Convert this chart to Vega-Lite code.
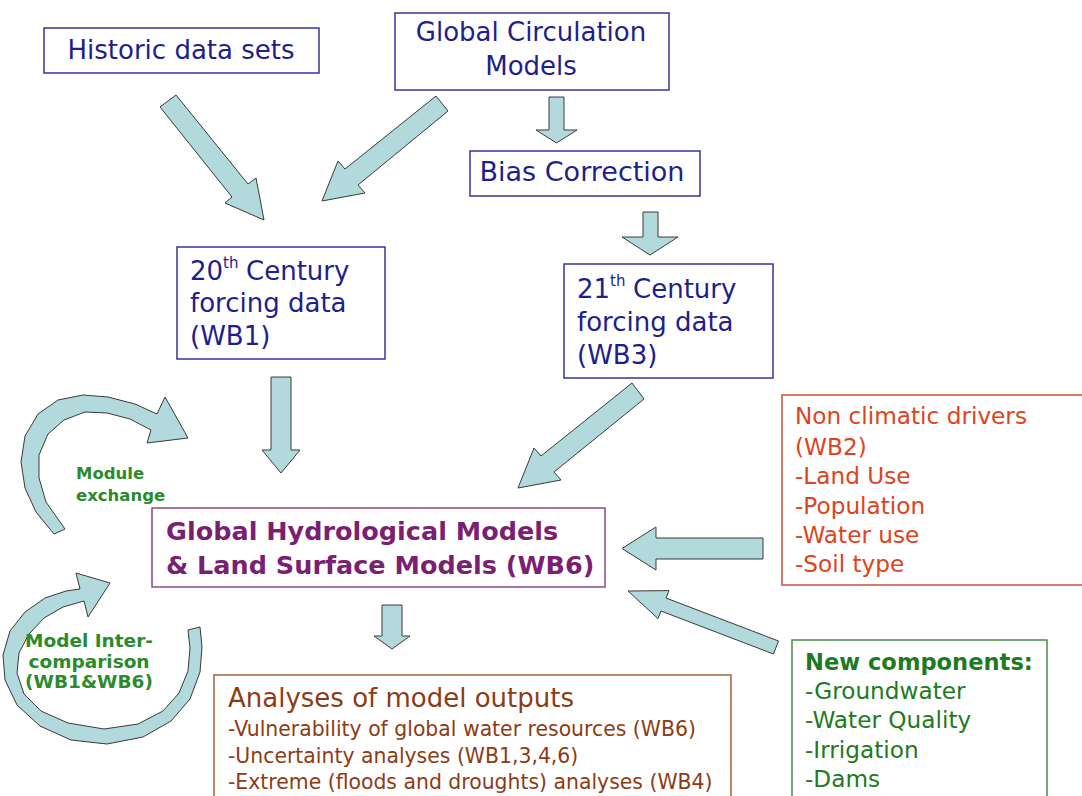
{
"$schema":"https://vega.github.io/schema/vega-lite/v6.json",
"width":1082,"height":796,"padding":0,
"autosize":{"type":"fit","contains":"padding"},
"background":"white",
"config":{"view":{"stroke":null}},
"datasets":{
"boxes":[
{"id":"historic","x1":44,"y1":28,"x2":319,"y2":73,"g":"input"},
{"id":"gcm","x1":395,"y1":13,"x2":669,"y2":90,"g":"input"},
{"id":"bias","x1":470,"y1":151,"x2":700,"y2":196,"g":"input"},
{"id":"c20","x1":177,"y1":247,"x2":385,"y2":359,"g":"input"},
{"id":"c21","x1":564,"y1":264,"x2":773,"y2":378,"g":"input"},
{"id":"ghm","x1":152,"y1":508,"x2":605,"y2":587,"g":"model"},
{"id":"nonclim","x1":782,"y1":395,"x2":1095,"y2":585,"g":"driver"},
{"id":"analyses","x1":214,"y1":675,"x2":731,"y2":810,"g":"output"},
{"id":"newcomp","x1":792,"y1":640,"x2":1047,"y2":810,"g":"component"}
],
"arrows":[
{"a":"A1","i":0,"x":160,"y":107},{"a":"A1","i":1,"x":232,"y":197},{"a":"A1","i":2,"x":225,"y":203},{"a":"A1","i":3,"x":264,"y":220},{"a":"A1","i":4,"x":256,"y":178},{"a":"A1","i":5,"x":248,"y":184},{"a":"A1","i":6,"x":176,"y":95},{"a":"A1","i":7,"x":160,"y":107},
{"a":"A2","i":0,"x":436,"y":96},{"a":"A2","i":1,"x":345,"y":169},{"a":"A2","i":2,"x":338,"y":161},{"a":"A2","i":3,"x":322,"y":201},{"a":"A2","i":4,"x":365,"y":193},{"a":"A2","i":5,"x":358,"y":185},{"a":"A2","i":6,"x":448,"y":111},{"a":"A2","i":7,"x":436,"y":96},
{"a":"A3","i":0,"x":549,"y":97},{"a":"A3","i":1,"x":549,"y":130},{"a":"A3","i":2,"x":536,"y":130},{"a":"A3","i":3,"x":556.5,"y":143},{"a":"A3","i":4,"x":577,"y":130},{"a":"A3","i":5,"x":564,"y":130},{"a":"A3","i":6,"x":564,"y":97},{"a":"A3","i":7,"x":549,"y":97},
{"a":"A4","i":0,"x":643,"y":212},{"a":"A4","i":1,"x":643,"y":237},{"a":"A4","i":2,"x":622,"y":237},{"a":"A4","i":3,"x":650,"y":255},{"a":"A4","i":4,"x":678,"y":237},{"a":"A4","i":5,"x":658,"y":237},{"a":"A4","i":6,"x":658,"y":212},{"a":"A4","i":7,"x":643,"y":212},
{"a":"A5","i":0,"x":271,"y":377},{"a":"A5","i":1,"x":271,"y":450},{"a":"A5","i":2,"x":262,"y":450},{"a":"A5","i":3,"x":281,"y":473},{"a":"A5","i":4,"x":300,"y":450},{"a":"A5","i":5,"x":291,"y":450},{"a":"A5","i":6,"x":291,"y":377},{"a":"A5","i":7,"x":271,"y":377},
{"a":"A6","i":0,"x":632,"y":383},{"a":"A6","i":1,"x":541,"y":456},{"a":"A6","i":2,"x":534,"y":448},{"a":"A6","i":3,"x":518,"y":488},{"a":"A6","i":4,"x":561,"y":480},{"a":"A6","i":5,"x":554,"y":472},{"a":"A6","i":6,"x":644,"y":399},{"a":"A6","i":7,"x":632,"y":383},
{"a":"A7","i":0,"x":763,"y":538},{"a":"A7","i":1,"x":656,"y":538},{"a":"A7","i":2,"x":656,"y":527},{"a":"A7","i":3,"x":622,"y":548.5},{"a":"A7","i":4,"x":656,"y":570},{"a":"A7","i":5,"x":656,"y":559},{"a":"A7","i":6,"x":763,"y":559},{"a":"A7","i":7,"x":763,"y":538},
{"a":"A8","i":0,"x":778.5,"y":641},{"a":"A8","i":1,"x":666,"y":598},{"a":"A8","i":2,"x":669,"y":590.6},{"a":"A8","i":3,"x":628,"y":591},{"a":"A8","i":4,"x":658,"y":618.6},{"a":"A8","i":5,"x":661,"y":611},{"a":"A8","i":6,"x":773.5,"y":654},{"a":"A8","i":7,"x":778.5,"y":641},
{"a":"A9","i":0,"x":382,"y":605},{"a":"A9","i":1,"x":382,"y":636},{"a":"A9","i":2,"x":374,"y":636},{"a":"A9","i":3,"x":392,"y":649},{"a":"A9","i":4,"x":410,"y":636},{"a":"A9","i":5,"x":402,"y":636},{"a":"A9","i":6,"x":402,"y":605},{"a":"A9","i":7,"x":382,"y":605},
{"a":"C1","i":0,"x":54,"y":534},{"a":"C1","i":1,"x":36,"y":512},{"a":"C1","i":2,"x":25,"y":488},{"a":"C1","i":3,"x":21,"y":462},{"a":"C1","i":4,"x":25,"y":436},{"a":"C1","i":5,"x":38,"y":414},{"a":"C1","i":6,"x":58,"y":400},{"a":"C1","i":7,"x":83,"y":395},{"a":"C1","i":8,"x":108,"y":397},{"a":"C1","i":9,"x":135,"y":404},{"a":"C1","i":10,"x":157,"y":414},{"a":"C1","i":11,"x":165,"y":397},{"a":"C1","i":12,"x":188,"y":438},{"a":"C1","i":13,"x":147,"y":443},{"a":"C1","i":14,"x":151,"y":430},{"a":"C1","i":15,"x":130,"y":419},{"a":"C1","i":16,"x":107,"y":413},{"a":"C1","i":17,"x":85,"y":412},{"a":"C1","i":18,"x":64,"y":420},{"a":"C1","i":19,"x":48,"y":434},{"a":"C1","i":20,"x":39,"y":455},{"a":"C1","i":21,"x":39,"y":478},{"a":"C1","i":22,"x":46,"y":502},{"a":"C1","i":23,"x":65,"y":529},{"a":"C1","i":24,"x":54,"y":534},
{"a":"C2","i":0,"x":200,"y":627},{"a":"C2","i":1,"x":202,"y":647},{"a":"C2","i":2,"x":200,"y":672},{"a":"C2","i":3,"x":190,"y":699},{"a":"C2","i":4,"x":171,"y":721},{"a":"C2","i":5,"x":143,"y":737},{"a":"C2","i":6,"x":107,"y":744},{"a":"C2","i":7,"x":71,"y":740},{"a":"C2","i":8,"x":40,"y":726},{"a":"C2","i":9,"x":17,"y":705},{"a":"C2","i":10,"x":5,"y":680},{"a":"C2","i":11,"x":3,"y":655},{"a":"C2","i":12,"x":10,"y":631},{"a":"C2","i":13,"x":25,"y":612},{"a":"C2","i":14,"x":45,"y":598},{"a":"C2","i":15,"x":66,"y":591},{"a":"C2","i":16,"x":80,"y":589},{"a":"C2","i":17,"x":76,"y":573},{"a":"C2","i":18,"x":110,"y":583},{"a":"C2","i":19,"x":88,"y":617},{"a":"C2","i":20,"x":84,"y":601},{"a":"C2","i":21,"x":63,"y":607},{"a":"C2","i":22,"x":44,"y":618},{"a":"C2","i":23,"x":29,"y":634},{"a":"C2","i":24,"x":19,"y":653},{"a":"C2","i":25,"x":17,"y":673},{"a":"C2","i":26,"x":24,"y":694},{"a":"C2","i":27,"x":41,"y":711},{"a":"C2","i":28,"x":68,"y":723},{"a":"C2","i":29,"x":104,"y":729},{"a":"C2","i":30,"x":138,"y":724},{"a":"C2","i":31,"x":163,"y":711},{"a":"C2","i":32,"x":179,"y":693},{"a":"C2","i":33,"x":188,"y":671},{"a":"C2","i":34,"x":190,"y":648},{"a":"C2","i":35,"x":188,"y":630},{"a":"C2","i":36,"x":200,"y":627}
],
"texts":[
{"t":"Historic data sets","x":181,"y":51,"g":"input","k":"c26"},
{"t":"Global Circulation","x":531,"y":33,"g":"input","k":"c26"},
{"t":"Models","x":531,"y":67,"g":"input","k":"c26"},
{"t":"Bias Correction","x":582,"y":173,"g":"input","k":"c27"},
{"t":"20","x":190,"y":272,"g":"input","k":"l26"},
{"t":"th","x":223,"y":263,"g":"input","k":"sup"},
{"t":"Century","x":246,"y":272,"g":"input","k":"l26"},
{"t":"forcing data","x":190,"y":304,"g":"input","k":"l26"},
{"t":"(WB1)","x":190,"y":337,"g":"input","k":"l26"},
{"t":"21","x":577,"y":290,"g":"input","k":"l26"},
{"t":"th","x":610,"y":281,"g":"input","k":"sup"},
{"t":"Century","x":633,"y":290,"g":"input","k":"l26"},
{"t":"forcing data","x":577,"y":323,"g":"input","k":"l26"},
{"t":"(WB3)","x":577,"y":356,"g":"input","k":"l26"},
{"t":"Non climatic drivers","x":795,"y":417,"g":"driver","k":"l23"},
{"t":"(WB2)","x":795,"y":448,"g":"driver","k":"l23"},
{"t":"-Land Use","x":795,"y":477,"g":"driver","k":"l23"},
{"t":"-Population","x":795,"y":507,"g":"driver","k":"l23"},
{"t":"-Water use","x":795,"y":536,"g":"driver","k":"l23"},
{"t":"-Soil type","x":795,"y":565,"g":"driver","k":"l23"},
{"t":"Global Hydrological Models","x":166,"y":532,"g":"model","k":"b25"},
{"t":"& Land Surface Models (WB6)","x":166,"y":566,"g":"model","k":"b25"},
{"t":"Analyses of model outputs","x":228,"y":699,"g":"output","k":"l26"},
{"t":"-Vulnerability of global water resources (WB6)","x":228,"y":730,"g":"output","k":"l20"},
{"t":"-Uncertainty analyses (WB1,3,4,6)","x":228,"y":757,"g":"output","k":"l20"},
{"t":"-Extreme (floods and droughts) analyses (WB4)","x":228,"y":783,"g":"output","k":"l20"},
{"t":"New components:","x":805,"y":663,"g":"component","k":"b22"},
{"t":"-Groundwater","x":805,"y":692,"g":"component","k":"l23"},
{"t":"-Water Quality","x":805,"y":721,"g":"component","k":"l23"},
{"t":"-Irrigation","x":805,"y":751,"g":"component","k":"l23"},
{"t":"-Dams","x":805,"y":780,"g":"component","k":"l23"},
{"t":"Module","x":76,"y":474,"g":"label","k":"b16"},
{"t":"exchange","x":76,"y":496,"g":"label","k":"b16"},
{"t":"Model Inter-","x":89,"y":641,"g":"label","k":"cb18"},
{"t":"comparison","x":89,"y":662,"g":"label","k":"cb18"},
{"t":"(WB1&WB6)","x":89,"y":682,"g":"label","k":"cb18"}
]
},
"layer":[
{"data":{"name":"boxes"},
 "mark":{"type":"rect","fill":"white","strokeWidth":1.5,"clip":true},
 "encoding":{
  "x":{"field":"x1","type":"quantitative","scale":{"domain":[0,1082],"nice":false,"zero":false},"axis":null},
  "x2":{"field":"x2"},
  "y":{"field":"y1","type":"quantitative","scale":{"domain":[0,796],"nice":false,"zero":false,"reverse":true},"axis":null},
  "y2":{"field":"y2"},
  "stroke":{"field":"g","type":"nominal","legend":null,"scale":{"domain":["input","model","driver","output","component"],"range":["#34349c","#8a4a88","#cc5040","#a8603c","#4a8a4a"]}}
 }},
{"data":{"name":"arrows"},
 "mark":{"type":"line","fill":"#b2d9dc","stroke":"#3a3a3a","strokeWidth":1,"strokeJoin":"miter"},
 "encoding":{
  "x":{"field":"x","type":"quantitative","scale":{"domain":[0,1082],"nice":false,"zero":false},"axis":null},
  "y":{"field":"y","type":"quantitative","scale":{"domain":[0,796],"nice":false,"zero":false,"reverse":true},"axis":null},
  "detail":{"field":"a","type":"nominal"},
  "order":{"field":"i","type":"quantitative"}
 }},
{"data":{"name":"texts"},
 "encoding":{
  "x":{"field":"x","type":"quantitative","scale":{"domain":[0,1082],"nice":false,"zero":false},"axis":null},
  "y":{"field":"y","type":"quantitative","scale":{"domain":[0,796],"nice":false,"zero":false,"reverse":true},"axis":null},
  "text":{"field":"t","type":"nominal"},
  "color":{"field":"g","type":"nominal","legend":null,"scale":{"domain":["input","model","driver","output","component","label"],"range":["#1e1e8c","#7a1f72","#dc4420","#8c3c14","#1e7a1e","#2b8a2b"]}}
 },
 "layer":[
  {"transform":[{"filter":"datum.k === 'c26'"}],"mark":{"type":"text","align":"center","baseline":"middle","font":"DejaVu Sans","fontSize":26}},
  {"transform":[{"filter":"datum.k === 'c27'"}],"mark":{"type":"text","align":"center","baseline":"middle","font":"DejaVu Sans","fontSize":27}},
  {"transform":[{"filter":"datum.k === 'l26'"}],"mark":{"type":"text","align":"left","baseline":"middle","font":"DejaVu Sans","fontSize":26}},
  {"transform":[{"filter":"datum.k === 'sup'"}],"mark":{"type":"text","align":"left","baseline":"middle","font":"DejaVu Sans","fontSize":15}},
  {"transform":[{"filter":"datum.k === 'l23'"}],"mark":{"type":"text","align":"left","baseline":"middle","font":"DejaVu Sans","fontSize":23.2}},
  {"transform":[{"filter":"datum.k === 'l20'"}],"mark":{"type":"text","align":"left","baseline":"middle","font":"DejaVu Sans","fontSize":20.4}},
  {"transform":[{"filter":"datum.k === 'b25'"}],"mark":{"type":"text","align":"left","baseline":"middle","font":"DejaVu Sans","fontWeight":"bold","fontSize":25.5}},
  {"transform":[{"filter":"datum.k === 'b22'"}],"mark":{"type":"text","align":"left","baseline":"middle","font":"DejaVu Sans","fontWeight":"bold","fontSize":22.6}},
  {"transform":[{"filter":"datum.k === 'b16'"}],"mark":{"type":"text","align":"left","baseline":"middle","font":"DejaVu Sans","fontWeight":"bold","fontSize":16.5}},
  {"transform":[{"filter":"datum.k === 'cb18'"}],"mark":{"type":"text","align":"center","baseline":"middle","font":"DejaVu Sans","fontWeight":"bold","fontSize":18.5}}
 ]}
]
}
